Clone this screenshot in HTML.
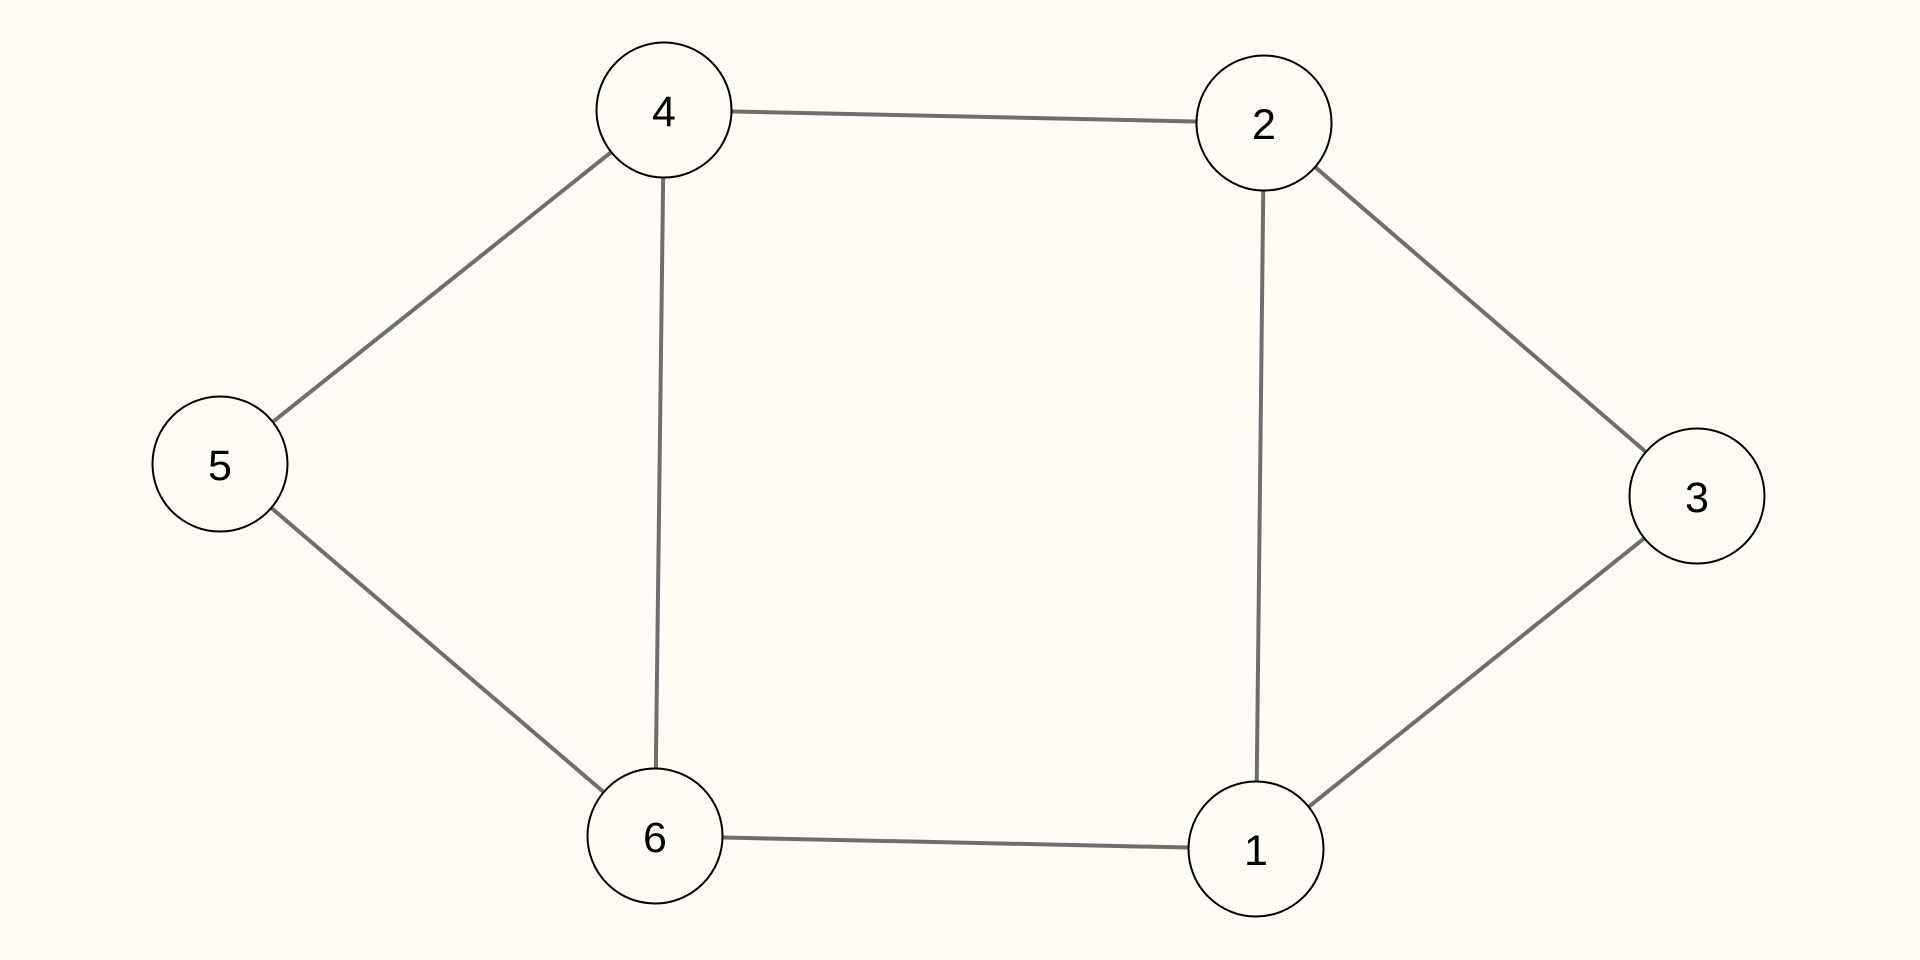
<!DOCTYPE html>
<html><head><style>html,body{margin:0;padding:0;background:#fffcf5;}svg{display:block}</style></head>
<body>
<svg width="1920" height="960" viewBox="0 0 1920 960" xmlns="http://www.w3.org/2000/svg">
<rect width="1920" height="960" fill="#fffcf5"/>
<g stroke="#6e6e6e" stroke-width="4">
<line x1="664" y1="110" x2="1264" y2="123"/>
<line x1="664" y1="110" x2="220" y2="464"/>
<line x1="664" y1="110" x2="655" y2="836"/>
<line x1="1264" y1="123" x2="1697" y2="496"/>
<line x1="1264" y1="123" x2="1256" y2="849"/>
<line x1="220" y1="464" x2="655" y2="836"/>
<line x1="1697" y1="496" x2="1256" y2="849"/>
<line x1="655" y1="836" x2="1256" y2="849"/>
</g>
<g fill="#fffcf5" stroke="#000" stroke-width="2">
<circle cx="664" cy="110" r="67.5"/>
<circle cx="1264" cy="123" r="67.5"/>
<circle cx="220" cy="464" r="67.5"/>
<circle cx="1697" cy="496" r="67.5"/>
<circle cx="655" cy="836" r="67.5"/>
<circle cx="1256" cy="849" r="67.5"/>
</g>
<g font-family="Liberation Sans, sans-serif" font-size="43" text-anchor="middle" fill="#000">
<text x="664" y="126">4</text>
<text x="1264" y="139">2</text>
<text x="220" y="480">5</text>
<text x="1697" y="512">3</text>
<text x="655" y="852">6</text>
<text x="1256" y="865">1</text>
</g>
</svg>
</body></html>
